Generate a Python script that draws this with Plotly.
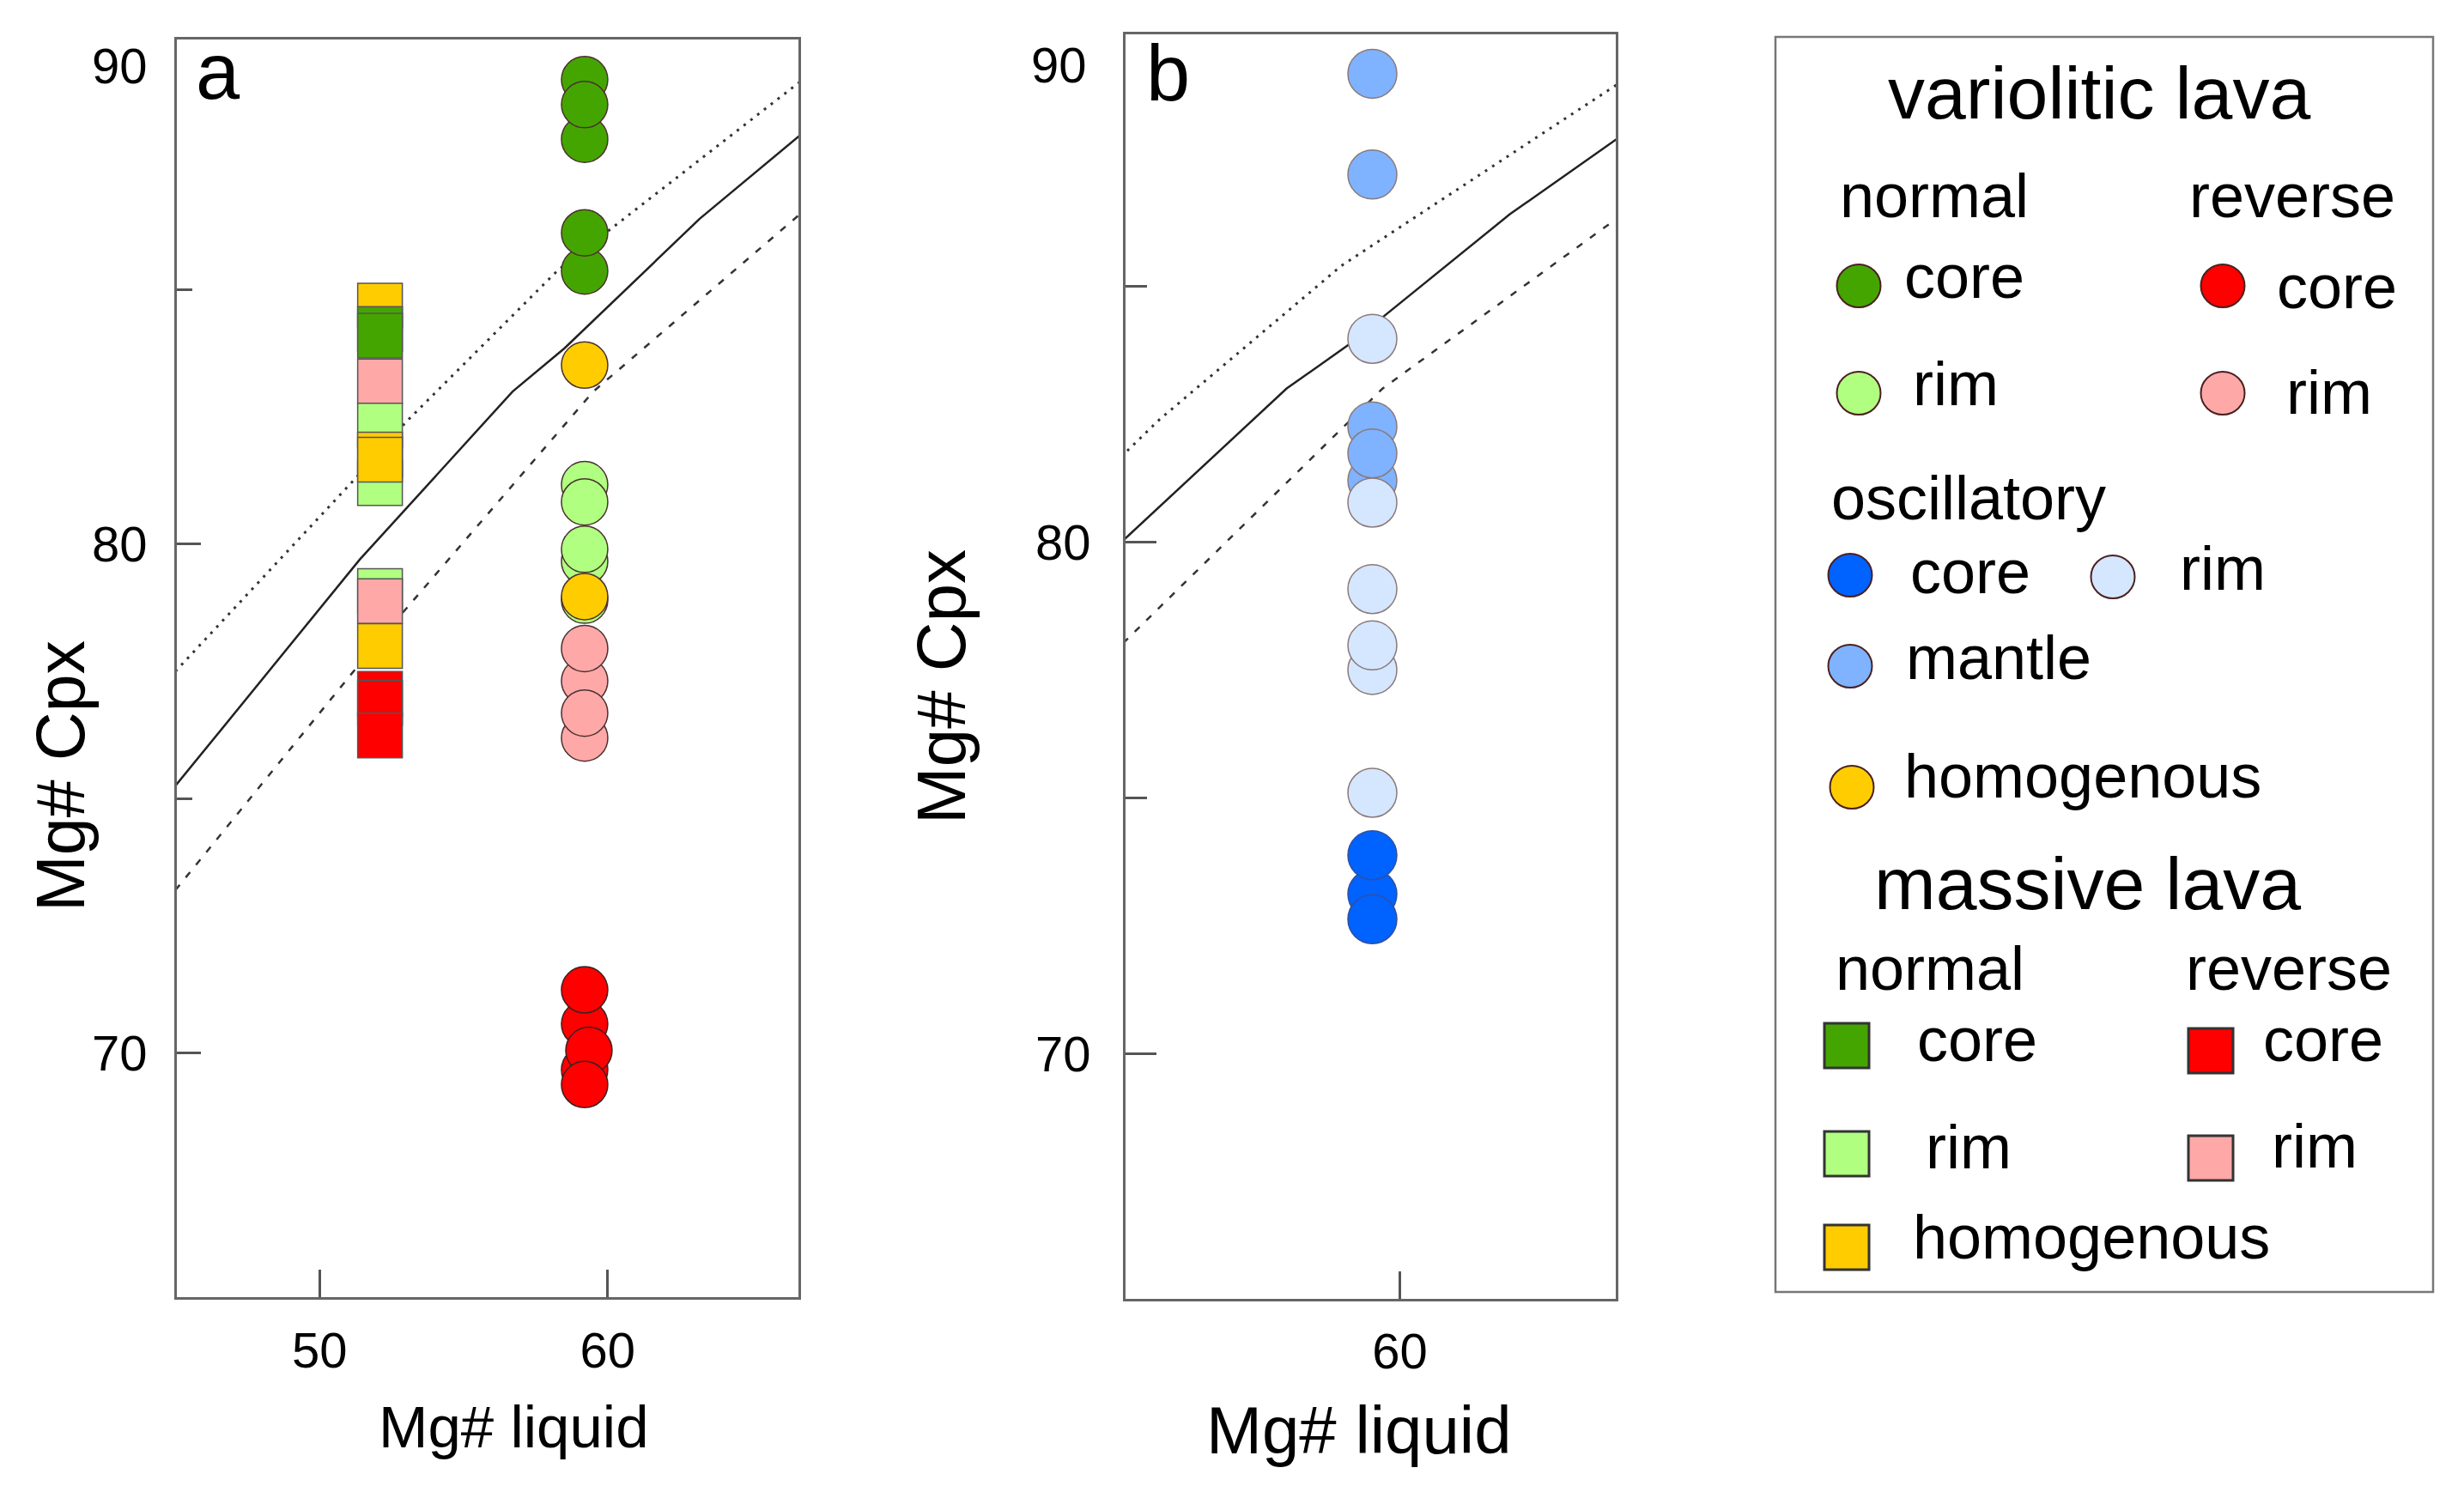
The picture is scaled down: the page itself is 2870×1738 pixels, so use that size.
import plotly.graph_objects as go

# page body has an 8px default margin: compensate so that positions map to the 2870x1738 window
OFF = 8
W, H = 2870 - 2 * OFF, 1738 - 2 * OFF
FONT = "Liberation Sans, Arial, sans-serif"

def PX(x):
    return (x - OFF) / W

def PY(y):
    return 1 - (y - OFF) / H

# ---------------- data ----------------
# panel a - variolitic lava (circles), Mg# liquid vs Mg# Cpx
var_x = 59.2
var_normal_rim = [81.17, 80.83, 79.66, 79.90, 78.90]
var_normal_core = [89.13, 87.96, 88.64, 85.37, 86.12]
var_homogenous = [83.52, 78.97]
var_reverse_rim = [76.19, 77.31, 76.68, 77.95]
var_reverse_core_x = [59.2, 59.2, 59.35, 59.2, 59.2]
var_reverse_core = [69.67, 70.57, 70.05, 71.24, 69.38]

# panel a - massive lava (squares), listed in drawing order
mas_x = 52.1
mas_values = [84.69, 84.23, 84.10, 83.20, 82.33, 81.20, 81.76, 81.66,
              79.08, 78.88, 78.00, 77.06, 76.88, 76.24]
mas_types = ["homogenous", "normal core", "normal core", "reverse rim",
             "normal rim", "normal rim", "homogenous", "homogenous",
             "normal rim", "reverse rim", "homogenous",
             "reverse core", "reverse core", "reverse core"]

# panel b - oscillatory variolitic lava
osc_x = 59.2
osc_mantle = [89.15, 87.18, 81.20, 82.26, 81.73]
osc_rim = [83.97, 80.77, 79.08, 77.50, 77.98, 75.10]
osc_core = [73.12, 72.63, 73.88]

# equilibrium curves (solid) with upper (dotted) and lower (dashed) bounds
eq_x = [45.0, 51.4, 56.7, 58.5, 63.2, 66.7]
eq_y = [75.25, 79.7, 83.0, 83.85, 86.4, 88.05]
up_x = [45.0, 52.0, 53.0, 58.3, 66.7]
up_y = [77.5, 81.75, 82.4, 85.4, 89.1]
lo_x = [45.0, 51.3, 52.0, 59.5, 66.7]
lo_y = [73.2, 77.6, 78.07, 83.0, 86.5]

xticks_a = [50, 60]
xticks_b = [60]
yticks = [70, 80]
yminor = [75, 85]

# ---------------- styles ----------------
C = {
    "normal core": "#45a500",
    "normal rim": "#b0ff80",
    "reverse core": "#ff0000",
    "reverse rim": "#ffa8a8",
    "homogenous": "#ffcc00",
    "osc core": "#0062ff",
    "osc mantle": "#7fb2ff",
    "osc rim": "#d5e6ff",
}
OUT_A = "#4a3030"
OUT_B = "#8a7a7a"
SZ_A = 54
SZ_B = 57
SZ_SQ = 52

fig = go.Figure()

def curves(xa, ya):
    fig.add_trace(go.Scatter(x=eq_x, y=eq_y, mode="lines", xaxis=xa, yaxis=ya,
                             line=dict(color="#222", width=2.5), hoverinfo="skip"))
    fig.add_trace(go.Scatter(x=up_x, y=up_y, mode="lines", xaxis=xa, yaxis=ya,
                             line=dict(color="#333", width=3, dash="3px,7px"), hoverinfo="skip"))
    fig.add_trace(go.Scatter(x=lo_x, y=lo_y, mode="lines", xaxis=xa, yaxis=ya,
                             line=dict(color="#333", width=2.5, dash="8px,11px"), hoverinfo="skip"))

curves("x", "y")
curves("x2", "y2")

def circles(xs, ys, color, xa, ya, size, outline):
    if not isinstance(xs, list):
        xs = [xs] * len(ys)
    fig.add_trace(go.Scatter(x=xs, y=ys, mode="markers", xaxis=xa, yaxis=ya,
                             marker=dict(symbol="circle", size=size, color=color,
                                         line=dict(color=outline, width=1.5))))

# panel a circles
circles(var_x, var_normal_rim, C["normal rim"], "x", "y", SZ_A, OUT_A)
circles(var_x, var_normal_core, C["normal core"], "x", "y", SZ_A, OUT_A)
circles(var_x, var_homogenous, C["homogenous"], "x", "y", SZ_A, OUT_A)
circles(var_x, var_reverse_rim, C["reverse rim"], "x", "y", SZ_A, OUT_A)
circles(var_reverse_core_x, var_reverse_core, C["reverse core"], "x", "y", SZ_A, "#3a2020")

# panel a squares
fig.add_trace(go.Scatter(x=[mas_x] * len(mas_values), y=mas_values, mode="markers",
                         xaxis="x", yaxis="y",
                         marker=dict(symbol="square", size=SZ_SQ,
                                     color=[C[t] for t in mas_types],
                                     line=dict(color="#555", width=1.5))))

# panel b circles
circles(osc_x, osc_mantle, C["osc mantle"], "x2", "y2", SZ_B, OUT_B)
circles(osc_x, osc_rim, C["osc rim"], "x2", "y2", SZ_B, OUT_B)
circles(osc_x, osc_core, C["osc core"], "x2", "y2", SZ_B, "#3050a0")

AX = dict(showline=True, linewidth=3, linecolor="#666", mirror=True, showgrid=False,
          zeroline=False, ticks="inside", tickwidth=3, tickcolor="#555",
          tickfont=dict(family=FONT, size=58, color="black"))

fig.update_layout(
    width=W, height=H, paper_bgcolor="white", plot_bgcolor="white",
    margin=dict(l=0, r=0, t=0, b=0), showlegend=False,
    xaxis=dict(AX, domain=[PX(206), PX(930)], range=[45.05, 66.62],
               tickvals=xticks_a, ticklen=32, ticklabelstandoff=9),
    yaxis=dict(AX, domain=[PY(1511), PY(46)], range=[65.2, 89.92],
               tickvals=yticks, ticklen=28, ticklabelstandoff=20,
               minor=dict(tickvals=yminor, ticks="inside", ticklen=18, tickwidth=3, tickcolor="#555")),
    xaxis2=dict(AX, domain=[PX(1311), PX(1882)], range=[52.0, 66.3], anchor="y2",
                tickvals=xticks_b, ticklen=32, ticklabelstandoff=9),
    yaxis2=dict(AX, domain=[PY(1512.5), PY(40)], range=[65.22, 89.92], anchor="x2",
                tickvals=yticks, ticklen=36, ticklabelstandoff=26,
                minor=dict(tickvals=yminor, ticks="inside", ticklen=25, tickwidth=3, tickcolor="#555")),
)

annotations = []
shapes = []

def txt(s, x, y, size, xanchor="left", angle=0):
    annotations.append(dict(text=s, x=PX(x), y=PY(y), xref="paper", yref="paper",
                            xanchor=xanchor, yanchor="middle", showarrow=False,
                            textangle=angle, font=dict(family=FONT, size=size, color="black")))

# panel letters, top tick labels and axis titles
txt("a", 254, 83, 92, "center")
txt("b", 1360, 85, 92, "center")
txt("90", 139, 76, 58, "center")
txt("90", 1233, 75, 58, "center")
txt("Mg# liquid", 598, 1662, 69, "center")
txt("Mg# liquid", 1583, 1666, 78, "center")
txt("Mg# Cpx", 70, 904, 79, "center", -90)
txt("Mg# Cpx", 1096, 800, 80, "center", -90)

# legend box
shapes.append(dict(type="rect", xref="paper", yref="paper",
                   x0=PX(2068), x1=PX(2834), y0=PY(1505), y1=PY(43),
                   line=dict(color="#777", width=2.5), fillcolor="rgba(0,0,0,0)"))

def leg_circle(x, y, color, outline="#4a2020"):
    shapes.append(dict(type="circle", xref="paper", yref="paper",
                       xsizemode="pixel", ysizemode="pixel",
                       xanchor=PX(x), yanchor=PY(y), x0=-25.5, x1=25.5, y0=-25, y1=25,
                       fillcolor=color, line=dict(color=outline, width=2)))

def leg_square(x, y, color):
    shapes.append(dict(type="rect", xref="paper", yref="paper",
                       xsizemode="pixel", ysizemode="pixel",
                       xanchor=PX(x), yanchor=PY(y), x0=-26, x1=26, y0=-26, y1=26,
                       fillcolor=color, line=dict(color="#333", width=3)))

txt("variolitic lava", 2445, 108, 86, "center")
txt("normal", 2141, 228, 72)
txt("reverse", 2548, 228, 72)
leg_circle(2165, 333, C["normal core"]); txt("core", 2216, 322, 72)
leg_circle(2589, 333, C["reverse core"]); txt("core", 2650, 334, 72)
leg_circle(2165, 458, C["normal rim"]); txt("rim", 2226, 447, 72)
leg_circle(2589, 458, C["reverse rim"]); txt("rim", 2661, 457, 72)
txt("oscillatory", 2131, 580, 72)
leg_circle(2155, 670, C["osc core"]); txt("core", 2223, 666, 72)
leg_circle(2461, 672, C["osc rim"]); txt("rim", 2537, 662, 72)
leg_circle(2155, 776, C["osc mantle"]); txt("mantle", 2218, 766, 72)
leg_circle(2157, 917, C["homogenous"]); txt("homogenous", 2216, 904, 72)
txt("massive lava", 2431, 1029, 86, "center")
txt("normal", 2136, 1128, 72)
txt("reverse", 2544, 1128, 72)
leg_square(2151, 1218, C["normal core"]); txt("core", 2231, 1211, 72)
leg_square(2575, 1224, C["reverse core"]); txt("core", 2634, 1211, 72)
leg_square(2151, 1344, C["normal rim"]); txt("rim", 2241, 1336, 72)
leg_square(2575, 1349, C["reverse rim"]); txt("rim", 2644, 1335, 72)
leg_square(2151, 1453, C["homogenous"]); txt("homogenous", 2226, 1441, 72)

fig.update_layout(annotations=annotations, shapes=shapes)
fig.write_html("out.html")
